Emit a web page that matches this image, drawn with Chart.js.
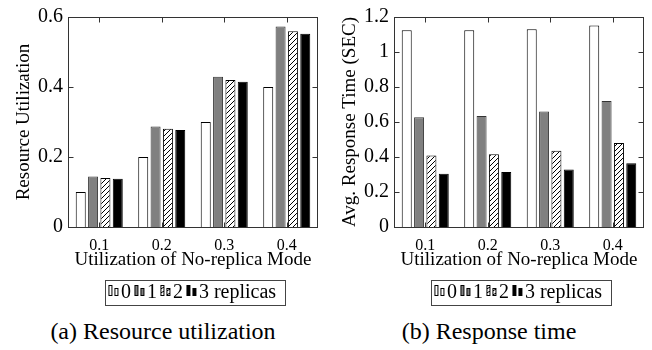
<!DOCTYPE html>
<html>
<head>
<meta charset="utf-8">
<script src="https://cdn.jsdelivr.net/npm/chart.js@4.4.1/dist/chart.umd.min.js"></script>
<style>
  body { margin: 0; background: #fff; width: 652px; height: 350px; position: relative; overflow: hidden; }
  .panel { position: absolute; top: 0; width: 326px; height: 313px; }
  .caption {
    position: absolute; top: 319px; width: 326px; text-align: center;
    font-family: 'Liberation Serif', serif; font-size: 24px; line-height: 24px; color: #000;
  }
</style>
</head>
<body>
<div class="panel" style="left:0"><canvas id="graficaA" width="326" height="313"></canvas></div>
<div class="panel" style="left:326px"><canvas id="graficaB" width="326" height="313"></canvas></div>
<div class="caption" style="left:0">(a) Resource utilization</div>
<div class="caption" style="left:326px">(b) Response time</div>
<script>
// categorias del eje x y nombres de las series
const categorias = ['0.1', '0.2', '0.3', '0.4'];
const series = ['0', '1', '2', '3 replicas'];

// (a) utilizacion de recursos
const util0 = [0.100, 0.200, 0.300, 0.400];
const util1 = [0.144, 0.287, 0.429, 0.573];
const util2 = [0.140, 0.281, 0.420, 0.559];
const util3 = [0.138, 0.277, 0.415, 0.552];
const ticksUtil = [0, 0.2, 0.4, 0.6];

// (b) tiempo de respuesta
const resp0 = [1.125, 1.125, 1.130, 1.151];
const resp1 = [0.627, 0.635, 0.660, 0.720];
const resp2 = [0.408, 0.416, 0.436, 0.480];
const resp3 = [0.304, 0.314, 0.329, 0.365];
const ticksResp = [0, 0.2, 0.4, 0.6, 0.8, 1, 1.2];

Chart.defaults.font.family = "'Liberation Serif', serif";
Chart.defaults.color = '#000';

function rayado(tam) {
  let c = document.createElement('canvas');
  c.width = tam; c.height = tam;
  let g = c.getContext('2d');
  g.fillStyle = '#fff';
  g.fillRect(0, 0, tam, tam);
  g.strokeStyle = '#000';
  g.lineWidth = 1;
  g.beginPath();
  g.moveTo(0, tam); g.lineTo(tam, 0);
  g.moveTo(-1, 1); g.lineTo(1, -1);
  g.moveTo(tam - 1, tam + 1); g.lineTo(tam + 1, tam - 1);
  g.stroke();
  return c;
}

// icono de la leyenda: dos barritas, una alta y otra baja
function icono(relleno) {
  let c = document.createElement('canvas');
  c.width = 18; c.height = 16;
  let g = c.getContext('2d');
  let barras = [[7, 0, 4, 11], [13, 3, 4, 8]];
  for (let b of barras) {
    if (relleno === 'rayado') {
      g.fillStyle = g.createPattern(rayado(4), 'repeat');
    } else {
      g.fillStyle = relleno;
    }
    g.fillRect(b[0], b[1], b[2], b[3]);
    g.strokeStyle = '#000';
    g.lineWidth = 1;
    g.strokeRect(b[0] + 0.5, b[1] + 0.5, b[2] - 1, b[3] - 1);
  }
  return c;
}

const iconos = [icono('#fff'), icono('#808080'), icono('rayado'), icono('#000')];

// marco del area y marcas hacia dentro (estilo pgfplots)
const marcoPlugin = {
  id: 'marco',
  afterDatasetsDraw(chart) {
    let ctx = chart.ctx;
    let a = chart.chartArea;
    let l = Math.round(a.left) + 0.5, r = Math.round(a.right) - 0.5;
    let t = Math.round(a.top) + 0.5, b = Math.round(a.bottom) + 0.5;
    ctx.save();
    ctx.strokeStyle = '#333';
    ctx.lineWidth = 1;
    ctx.beginPath();
    chart.scales.x.ticks.forEach((tk, i) => {
      let px = Math.round(chart.scales.x.getPixelForTick(i)) + 0.5;
      ctx.moveTo(px, b); ctx.lineTo(px, b - 5);
      ctx.moveTo(px, t); ctx.lineTo(px, t + 5);
    });
    chart.scales.y.ticks.forEach(tk => {
      let py = Math.round(chart.scales.y.getPixelForValue(tk.value)) + 0.5;
      ctx.moveTo(l, py); ctx.lineTo(l + 5, py);
      ctx.moveTo(r, py); ctx.lineTo(r - 5, py);
    });
    ctx.stroke();
    ctx.strokeRect(l, t, r - l, b - t);
    ctx.restore();
  }
};

// recuadro alrededor de la leyenda
const cajaLeyendaPlugin = {
  id: 'cajaLeyenda',
  afterDraw(chart) {
    let cajas = chart.legend.legendHitBoxes;
    if (!cajas || !cajas.length) return;
    let primera = cajas[0], ultima = cajas[cajas.length - 1];
    let centro = primera.top + 10;
    let x1 = Math.round(primera.left - 5) + 0.5;
    let x2 = Math.round(ultima.left + ultima.width + 9) + 0.5;
    let y1 = Math.round(centro - 13) + 0.5;
    let y2 = Math.round(centro + 12) + 0.5;
    let ctx = chart.ctx;
    ctx.save();
    ctx.strokeStyle = '#444';
    ctx.lineWidth = 1;
    ctx.strokeRect(x1, y1, x2 - x1, y2 - y1);
    ctx.restore();
  }
};

function crearGrafica(id, valores, ticksY, tituloY) {
  let ctx = document.getElementById(id).getContext('2d');
  let fondos = ['#fff', '#808080', ctx.createPattern(rayado(5), 'repeat'), '#000'];
  let bordes = ['#000', '#333', '#000', '#000'];
  let datasets = valores.map((v, i) => ({
    label: series[i],
    data: v,
    backgroundColor: fondos[i],
    borderColor: bordes[i],
    borderWidth: 1,
    categoryPercentage: 0.79,
    barPercentage: 0.81
  }));

  return new Chart(ctx, {
    type: 'bar',
    data: { labels: categorias, datasets: datasets },
    plugins: [marcoPlugin, cajaLeyendaPlugin],
    options: {
      responsive: false,
      animation: false,
      layout: { padding: { left: 13, right: 8, top: 15, bottom: 0 } },
      plugins: {
        tooltip: { enabled: false },
        legend: {
          position: 'bottom',
          fullSize: false,
          labels: {
            usePointStyle: true,
            pointStyleWidth: 1,
            padding: 5,
            font: { size: 20 },
            generateLabels: chart => chart.data.datasets.map((ds, i) => ({
              text: ds.label,
              pointStyle: iconos[i],
              fillStyle: '#fff',
              strokeStyle: '#000',
              lineWidth: 0,
              hidden: false,
              datasetIndex: i,
              fontColor: '#000'
            }))
          }
        }
      },
      scales: {
        x: {
          grid: { display: false, drawTicks: false },
          border: { display: false },
          ticks: { padding: 9, font: { size: 16 }, color: '#000' },
          title: { display: true, text: 'Utilization of No-replica Mode', font: { size: 19 }, padding: { top: 0, bottom: 7 } },
          afterFit: s => { s.height = 51; }
        },
        y: {
          min: ticksY[0],
          max: ticksY[ticksY.length - 1],
          grid: { display: false, drawTicks: false },
          border: { display: false },
          afterBuildTicks: s => { s.ticks = ticksY.map(v => ({ value: v })); },
          ticks: { padding: 5, font: { size: 20 }, color: '#000', callback: v => String(v) },
          title: { display: true, text: tituloY, font: { size: 19 }, padding: { top: 0, bottom: 0 } },
          afterFit: s => { s.width = 55; }
        }
      }
    }
  });
}

crearGrafica('graficaA', [util0, util1, util2, util3], ticksUtil, 'Resource Utilization');
crearGrafica('graficaB', [resp0, resp1, resp2, resp3], ticksResp, 'Avg. Response Time (SEC)');
</script>
</body>
</html>
